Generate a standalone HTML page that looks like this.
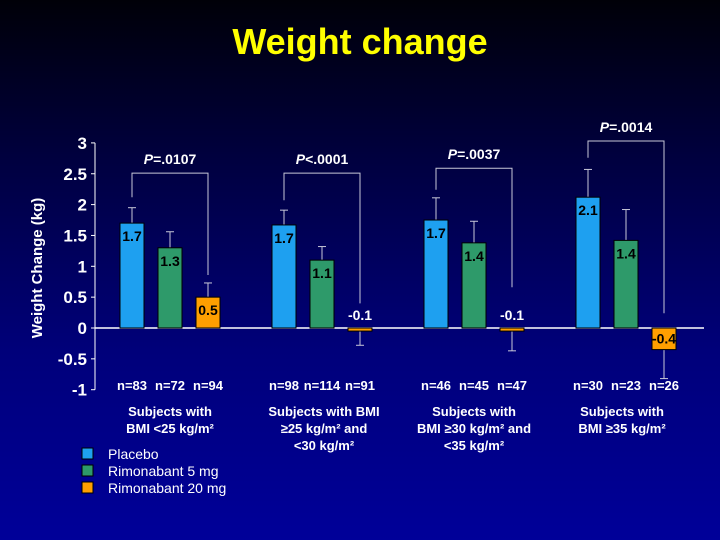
<!DOCTYPE html>
<html><head><meta charset="utf-8"><style>
html,body{margin:0;padding:0;height:540px;overflow:hidden}
body{width:720px;height:540px;overflow:hidden;background:linear-gradient(#000008 0%,#000040 30%,#00007a 65%,#000099 100%);font-family:"Liberation Sans",sans-serif}
svg{display:block}
svg text{font-family:"Liberation Sans",sans-serif}
</style></head><body>
<svg id="chart" width="720" height="540" xmlns="http://www.w3.org/2000/svg">
<text x="360" y="54" text-anchor="middle" font-size="36" font-weight="bold" fill="#ffff00">Weight change</text>
<text transform="translate(42,268) rotate(-90)" text-anchor="middle" font-size="15" font-weight="bold" fill="#fff">Weight Change (kg)</text>
<g id="axis"></g>
<g id="bars"></g>
<g id="ann"></g>
<g>
<g><rect x="82" y="448" width="11" height="11" fill="#1ea0f0" stroke="#000"/><text x="108" y="459" font-size="14" fill="#fff">Placebo</text></g>
<g><rect x="82" y="465" width="11" height="11" fill="#2e9a6a" stroke="#000"/><text x="108" y="476" font-size="14" fill="#fff">Rimonabant 5 mg</text></g>
<g><rect x="82" y="482" width="11" height="11" fill="#ff9f00" stroke="#000"/><text x="108" y="493" font-size="14" fill="#fff">Rimonabant 20 mg</text></g>
</g>
</svg>
<script>
const groups = ["BMI <25", "BMI 25-30", "BMI 30-35", "BMI >=35"];
const placebo = [1.7, 1.67, 1.75, 2.12];
const rimo5 = [1.3, 1.1, 1.38, 1.42];
const rimo20 = [0.5, -0.05, -0.05, -0.35];
const placeboErr = [0.25, 0.24, 0.36, 0.45];
const rimo5Err = [0.26, 0.22, 0.35, 0.5];
const rimo20Err = [0.23, 0.23, 0.32, 0.47];
const placeboLabels = ["1.7", "1.7", "1.7", "2.1"];
const rimo5Labels = ["1.3", "1.1", "1.4", "1.4"];
const rimo20Labels = ["0.5", "-0.1", "-0.1", "-0.4"];
const nLabels = [["n=83","n=72","n=94"],["n=98","n=114","n=91"],["n=46","n=45","n=47"],["n=30","n=23","n=26"]];
const pLabels = ["=.0107", "<.0001", "=.0037", "=.0014"];
const bracketTop = [2.51, 2.51, 2.59, 3.03];
const bracketLeftEnd = [2.12, 2.07, 2.24, 2.76];
const bracketRightEnd = [0.86, 0.4, 0.66, 0.24];
const yTicks = [3, 2.5, 2, 1.5, 1, 0.5, 0, -0.5, -1];

const NS = "http://www.w3.org/2000/svg";
function y(v){ return 328 - v * 61.7; }
function gx(i){ return 120 + i * 152; }
function mk(tag, attrs, parent){ const e = document.createElementNS(NS, tag); for (const k in attrs) e.setAttribute(k, attrs[k]); parent.appendChild(e); return e; }

const axis = document.getElementById("axis");
const axisLine = mk("line", {x1:95, y1:y(3), x2:95, y2:y(-1), stroke:"#fff", "stroke-width":1}, axis);


const zero = mk("line", {x1:95, y1:y(0), x2:704, y2:y(0), stroke:"#fff", "stroke-width":1.5}, axis);


yTicks.forEach(t => {
  mk("line", {x1:91, y1:y(t), x2:95, y2:y(t), stroke:"#fff"}, axis);
  const tx = mk("text", {x:87, y:y(t)+6, "text-anchor":"end", "font-size":17, "font-weight":"bold", fill:"#fff"}, axis);
  tx.textContent = String(t);
  
  
});

const bars = document.getElementById("bars");
const ann = document.getElementById("ann");
const series = [[placebo, placeboErr, placeboLabels, "#1ea0f0"], [rimo5, rimo5Err, rimo5Labels, "#2e9a6a"], [rimo20, rimo20Err, rimo20Labels, "#ff9f00"]];
groups.forEach((g, i) => {
  series.forEach((s, j) => {
    const v = s[0][i], e = s[1][i];
    const x = gx(i) + j * 38, w = 24;
    const top = Math.min(y(v), y(0)), h = Math.abs(y(v) - y(0));
    const errEnd = v >= 0 ? y(v + e) : y(v - e);
    const el = mk("line", {x1:x+w/2, y1:v>=0?top:top+h, x2:x+w/2, y2:errEnd, stroke:"#c8c8d8", "stroke-width":1}, bars);
    
    
    mk("line", {x1:x+w/2-4, y1:errEnd, x2:x+w/2+4, y2:errEnd, stroke:"#c8c8d8"}, bars);
    const r = mk("rect", {x:x, y:top, width:w, height:Math.max(h,1), fill:s[3], stroke:"#000", "stroke-width":1}, bars);
    
    
    const small = Math.abs(v) < 0.2;
    const ly = v >= 0 ? (small ? y(v) - 8 : y(v) + 18) : (small ? y(0) - 8 : y(v) - 6);
    const lt = mk("text", {x:x+w/2, y:ly, "text-anchor":"middle", "font-size":14, "font-weight":"bold", fill:(small ? "#fff" : "#000")}, bars);
    lt.textContent = s[2][i];
    
    
    const nt = mk("text", {x:x+w/2, y:390, "text-anchor":"middle", "font-size":13, "font-weight":"bold", fill:"#fff"}, ann);
    nt.textContent = nLabels[i][j];
    
    
  });
  const lx = gx(i) + 12, rx = gx(i) + 2*38 + 12;
  const bt = y(bracketTop[i]);
  const br = mk("polyline", {points:`${lx},${y(bracketLeftEnd[i])} ${lx},${bt} ${rx},${bt} ${rx},${y(bracketRightEnd[i])}`, fill:"none", stroke:"#c8c8d8", "stroke-width":1}, ann);
  
  
  const pt = mk("text", {x:(lx+rx)/2, y:bt-9, "text-anchor":"middle", "font-size":14, "font-weight":"bold", fill:"#fff"}, ann);
  pt.innerHTML = '<tspan font-style="italic">P</tspan>' + pLabels[i].replace("<","&lt;");
  
  
});

const groupText = [
  ["Subjects with", "BMI <25 kg/m²"],
  ["Subjects with BMI", "≥25 kg/m² and", "<30 kg/m²"],
  ["Subjects with", "BMI ≥30 kg/m² and", "<35 kg/m²"],
  ["Subjects with", "BMI ≥35 kg/m²"]
];
const gcx = [170, 324, 474, 622];
groupText.forEach((lines, i) => {
  lines.forEach((l, k) => {
    const t = mk("text", {x:gcx[i], y:416 + k*17, "text-anchor":"middle", "font-size":13, "font-weight":"bold", fill:"#fff"}, ann);
    t.textContent = l;
    
    
  });
});
</script>
</body></html>
